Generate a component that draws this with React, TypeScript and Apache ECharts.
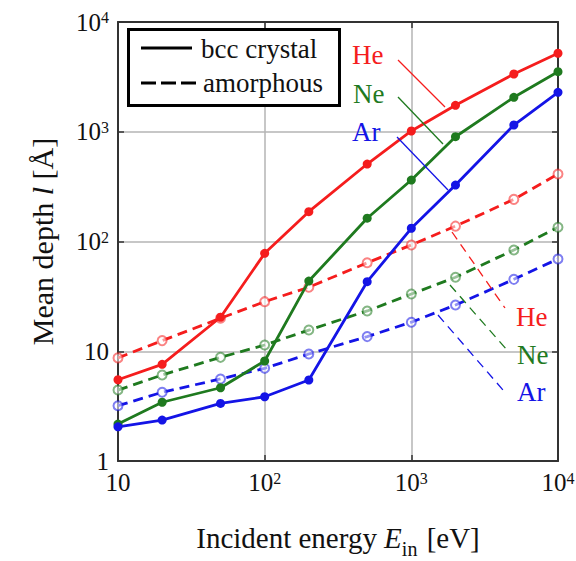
import React, { useEffect, useRef } from 'react';
import * as echarts from 'echarts';

const energies = [10, 20, 50, 100, 200, 500, 1000, 2000, 5000, 10000];
const heCrystal = [5.5, 7.6, 20.4, 78, 187, 508, 1016, 1742, 3360, 5190];
const neCrystal = [2.17, 3.43, 4.65, 8.15, 43.6, 163, 363, 901, 2061, 3525];
const arCrystal = [2.05, 2.36, 3.35, 3.85, 5.47, 43, 132, 327, 1152, 2287];
const heAmorphous = [8.7, 12.5, 20, 28.3, 38.3, 64, 93, 138, 242, 412];
const neAmorphous = [4.43, 6.08, 8.8, 11.4, 15.6, 23.3, 33.2, 47.2, 83.7, 135];
const arAmorphous = [3.19, 4.23, 5.59, 6.99, 9.44, 13.6, 18.4, 26.4, 45.2, 69.3];
const xTickLabels = ['10', '10{sup|2}', '10{sup|3}', '10{sup|4}'];
const yTickLabels = ['1', '10', '10{sup|2}', '10{sup|3}', '10{sup|4}'];
const gasNames = ['He', 'Ne', 'Ar'];
const legendNames = ['bcc crystal', 'amorphous'];

const RED = '#f51d1d';
const GREEN = '#1f7a1f';
const BLUE = '#1414e6';
const FONT = '"Liberation Serif", "Times New Roman", serif';

const pair = (ys: number[]) => energies.map((x, i) => [x, ys[i]]);

export default function App() {
  const ref = useRef<HTMLDivElement>(null);
  useEffect(() => {
    if (!ref.current) return;
    const chart = echarts.init(ref.current, undefined, { renderer: 'svg' });
    const colors = [RED, GREEN, BLUE];
    const crystal = [heCrystal, neCrystal, arCrystal];
    const amorph = [heAmorphous, neAmorphous, arAmorphous];
    const series: any[] = [];
    amorph.forEach((d, i) => {
      series.push({
        name: gasNames[i] + ' ' + legendNames[1],
        type: 'line',
        data: pair(d),
        symbol: 'emptyCircle',
        symbolSize: 9,
        lineStyle: { color: colors[i], width: 2.8, type: [10, 6] },
        itemStyle: { color: colors[i], borderColor: colors[i], borderWidth: 1, opacity: 0.55 },
        z: 2,
      });
    });
    crystal.forEach((d, i) => {
      series.push({
        name: gasNames[i] + ' ' + legendNames[0],
        type: 'line',
        data: pair(d),
        symbol: 'circle',
        symbolSize: 9,
        lineStyle: { color: colors[i], width: 2.8 },
        itemStyle: { color: colors[i] },
        z: 3,
      });
    });

    const supRich = {
      sup: { fontSize: 16, fontFamily: FONT, color: '#111', verticalAlign: 'top', lineHeight: 14 },
    };
    const baseAxis = {
      type: 'log',
      logBase: 10,
      axisLine: { show: true, lineStyle: { color: '#333', width: 2 } },
      axisTick: { show: true, inside: true, length: 6, lineStyle: { color: '#333', width: 1.5 } },
      minorTick: { show: false },
    };

    const annot = (text: string, x: number, y: number, color: string) => ({
      type: 'text',
      x,
      y,
      style: { text, fill: color, fontSize: 27, fontFamily: FONT, align: 'left', verticalAlign: 'middle' },
      z: 10,
    });
    const lead = (x1: number, y1: number, x2: number, y2: number, color: string, dashed: boolean) => ({
      type: 'line',
      shape: { x1, y1, x2, y2 },
      style: { stroke: color, lineWidth: 1.3, lineDash: dashed ? [9, 6] : null },
      z: 10,
    });

    chart.setOption({
      animation: false,
      backgroundColor: '#fff',
      grid: { left: 118, top: 22, width: 440, height: 439, containLabel: false, outerBoundsMode: 'none' },
      xAxis: [
        {
          ...baseAxis,
          min: 10,
          max: 10000,
          position: 'bottom',
          axisLabel: {
            margin: 9,
            fontSize: 25,
            fontFamily: FONT,
            color: '#111',
            formatter: (v: number) => xTickLabels[Math.round(Math.log10(v)) - 1],
            rich: supRich,
          },
          splitLine: { show: true, lineStyle: { color: '#b4b4b4', width: 1.5 } },
          name: '{m|Incident energy }{it|E}{sub|in}{m| [eV]}',
          nameLocation: 'middle',
          nameGap: 62,
          nameTextStyle: {
            fontSize: 29,
            fontFamily: FONT,
            color: '#111',
            rich: {
              m: { fontSize: 29, fontFamily: FONT, color: '#111', verticalAlign: 'top', lineHeight: 30 },
              it: { fontSize: 29, fontFamily: FONT, fontStyle: 'italic', color: '#111', verticalAlign: 'top', lineHeight: 30 },
              sub: { fontSize: 20, fontFamily: FONT, color: '#111', verticalAlign: 'top', lineHeight: 18, padding: [16, 2, 0, 0] },
            },
          },
        },
        {
          ...baseAxis,
          min: 10,
          max: 10000,
          position: 'top',
          axisLabel: { show: false },
          splitLine: { show: false },
        },
      ],
      yAxis: [
        {
          ...baseAxis,
          min: 1,
          max: 10000,
          position: 'left',
          axisLabel: {
            margin: 9,
            fontSize: 25,
            fontFamily: FONT,
            color: '#111',
            formatter: (v: number) => yTickLabels[Math.round(Math.log10(v))],
            rich: supRich,
          },
          splitLine: { show: true, lineStyle: { color: '#b4b4b4', width: 1.5 } },
          name: 'Mean depth {it|l} [Å]',
          nameLocation: 'middle',
          nameGap: 61,
          nameTextStyle: {
            fontSize: 30,
            fontFamily: FONT,
            color: '#111',
            rich: {
              it: { fontSize: 30, fontFamily: FONT, fontStyle: 'italic', color: '#111' },
            },
          },
        },
        {
          ...baseAxis,
          min: 1,
          max: 10000,
          position: 'right',
          axisLabel: { show: false },
          splitLine: { show: false },
        },
      ],
      series,
      graphic: [
        {
          type: 'rect',
          shape: { x: 128.5, y: 29.5, width: 211, height: 76 },
          style: { fill: '#fff', stroke: '#000', lineWidth: 3 },
          z: 10,
        },
        { type: 'line', shape: { x1: 141, y1: 48, x2: 192, y2: 48 }, style: { stroke: '#000', lineWidth: 3 }, z: 11 },
        {
          type: 'line',
          shape: { x1: 141, y1: 83, x2: 197, y2: 83 },
          style: { stroke: '#000', lineWidth: 3, lineDash: [15, 5] },
          z: 11,
        },
        annot(legendNames[0], 201, 49, '#111'),
        annot(legendNames[1], 203, 83, '#111'),
        annot(gasNames[0], 352, 55, RED),
        annot(gasNames[1], 353, 94, GREEN),
        annot(gasNames[2], 352, 132, BLUE),
        lead(398, 60, 445, 107, RED, false),
        lead(398, 97, 443, 144, GREEN, false),
        lead(397, 137, 448, 190, BLUE, false),
        annot(gasNames[0], 516, 317, RED),
        annot(gasNames[1], 517, 355, GREEN),
        annot(gasNames[2], 517, 392, BLUE),
        lead(452, 232, 505, 308, RED, true),
        lead(450, 285, 507, 350, GREEN, true),
        lead(438, 315, 503, 390, BLUE, true),
      ],
    });
    return () => chart.dispose();
  }, []);
  return (
    <div
      ref={ref}
      style={{ position: 'absolute', left: 0, top: 0, width: 576, height: 561, background: '#fff' }}
    />
  );
}
